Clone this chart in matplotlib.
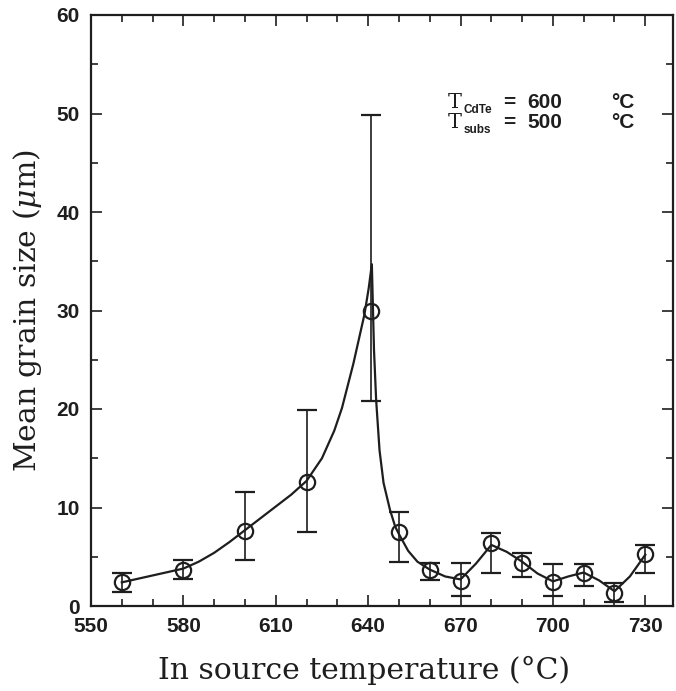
import matplotlib
matplotlib.use("Agg")
import matplotlib.pyplot as plt
from matplotlib.ticker import MultipleLocator

# measured points
temp = [560, 580, 600, 620, 641, 650, 660, 670, 680, 690, 700, 710, 720, 730]
size = [2.4, 3.7, 7.6, 12.6, 29.9, 7.5, 3.65, 2.5, 6.4, 4.4, 2.4, 3.4, 1.35, 5.25]
err_hi = [3.3, 4.7, 11.6, 19.9, 49.8, 9.5, 4.4, 4.4, 7.4, 5.35, 4.3, 4.3, 2.3, 6.2]
err_lo = [1.4, 2.7, 4.7, 7.5, 20.8, 4.5, 2.6, 1.0, 3.4, 2.9, 1.0, 2.0, 0.45, 3.3]

# guide curve
curve_x = [560, 565, 570, 575, 580, 585, 590, 595, 600, 605, 610, 615, 620, 625,
           629, 631.5, 635.2, 638.8, 640.2, 641.2, 641.9, 642.6, 643.7, 645, 647.1,
           648.8, 650, 653, 656, 660, 665, 670, 675, 680, 685, 690, 695, 700, 705,
           710, 715, 720, 725, 730]
curve_y = [2.4, 2.75, 3.1, 3.45, 3.8, 4.5, 5.4, 6.5, 7.7, 8.9, 10.1, 11.3, 12.7, 15.0,
           17.8, 20.1, 24.6, 29.6, 32.3, 34.7, 26, 20.9, 15.8, 12.5, 9.75,
           8.05, 7.3, 5.6, 4.5, 3.7, 3.0, 2.7, 4.3, 6.2, 5.5, 4.5, 3.3, 2.5, 3.0,
           3.4, 2.6, 1.5, 3.0, 5.2]

xticks = [550, 580, 610, 640, 670, 700, 730]
yticks = [0, 10, 20, 30, 40, 50, 60]

ink = "#1e1e1e"
plt.rcParams['mathtext.fontset'] = 'dejavuserif'
fig = plt.figure(figsize=(6.76, 6.91), dpi=100)
ax = fig.add_axes([91/676, 1-606/691, 582/676, 591/691])

ax.plot(curve_x, curve_y, color=ink, lw=1.6, zorder=2)
yerr = [[s - lo for s, lo in zip(size, err_lo)], [hi - s for s, hi in zip(size, err_hi)]]
ax.errorbar(temp, size, yerr=yerr, fmt='o', mfc='none', mec=ink, mew=1.6, ms=11,
            ecolor=ink, elinewidth=1.2, capsize=7.5, capthick=1.6, zorder=3)

ax.set_xlim(550, 739)
ax.set_ylim(0, 60)
ax.set_xticks(xticks)
ax.set_yticks(yticks)
ax.xaxis.set_minor_locator(MultipleLocator(10))
ax.yaxis.set_minor_locator(MultipleLocator(5))
ax.tick_params(which='both', direction='in', top=True, right=True, color=ink, width=1.2)
ax.tick_params(which='major', length=8)
ax.tick_params(which='minor', length=5)
for lab in ax.get_xticklabels() + ax.get_yticklabels():
    lab.set_fontfamily('Liberation Sans')
    lab.set_fontweight('bold')
    lab.set_fontsize(15)
    lab.set_color(ink)
ax.tick_params(axis='x', pad=8)
ax.tick_params(axis='y', pad=8)
for sp in ax.spines.values():
    sp.set_linewidth(1.6)
    sp.set_color(ink)

ax.set_xlabel("In source temperature (°C)", family='DejaVu Serif', fontsize=21.5,
              color=ink)
ax.xaxis.set_label_coords(0.469, -0.085)
ax.set_ylabel(r"Mean grain size ($\mu$m)", family='DejaVu Serif', fontsize=21.5,
              color=ink, labelpad=9)

# annotation
for yy, sub, val in [(0.843, 'CdTe', '600'), (0.809, 'subs', '500')]:
    ax.text(0.613, yy, 'T', transform=ax.transAxes, family='DejaVu Serif',
            fontsize=15, color=ink, va='baseline')
    ax.text(0.640, yy - 0.009, sub, transform=ax.transAxes, family='Liberation Sans',
            fontweight='bold', fontsize=8.5, color=ink, va='baseline')
    ax.text(0.708, yy, '=', transform=ax.transAxes, family='Liberation Sans',
            fontweight='bold', fontsize=15, color=ink, va='baseline')
    ax.text(0.749, yy, val, transform=ax.transAxes, family='Liberation Sans',
            fontweight='bold', fontsize=15, color=ink, va='baseline')
    ax.text(0.893, yy, '°C', transform=ax.transAxes, family='Liberation Sans',
            fontweight='bold', fontsize=15, color=ink, va='baseline')

fig.savefig("out.png", dpi=100)
